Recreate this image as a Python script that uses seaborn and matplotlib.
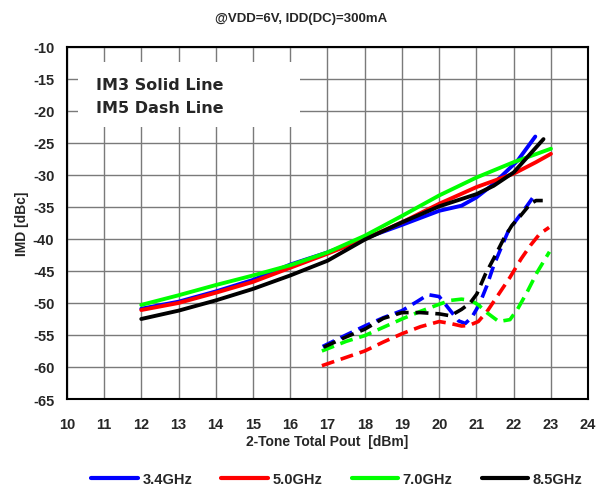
import matplotlib
matplotlib.use("Agg")
import matplotlib.pyplot as plt
from matplotlib.patches import Rectangle
from matplotlib.lines import Line2D
import seaborn as sns
import pandas as pd

# ---- IM3 (solid) ----
x_im3_34 = [12, 13, 14, 15, 16, 17, 18, 19, 20, 20.6, 21, 21.4, 22.1, 22.58]
y_im3_34 = [-50.9, -49.8, -48.2, -46.4, -44.0, -42.1, -39.9, -37.8, -35.6, -34.8, -33.5, -31.7, -27.8, -24.0]

x_im3_50 = [12, 13, 14, 15, 16, 17, 18, 19, 20, 21, 22, 22.6, 23.0]
y_im3_50 = [-51.1, -50.0, -48.4, -46.7, -44.5, -42.3, -40.0, -37.4, -34.5, -31.9, -29.8, -28.0, -26.7]

x_im3_70 = [12, 13, 14, 15, 16, 17, 18, 19, 20, 21, 22, 23.0]
y_im3_70 = [-50.3, -48.8, -47.2, -45.7, -44.1, -42.1, -39.5, -36.4, -33.2, -30.4, -28.0, -25.9]

x_im3_85 = [12, 13, 14, 15, 16, 17, 18, 19, 20, 21, 21.46, 22, 22.8]
y_im3_85 = [-52.5, -51.2, -49.6, -47.8, -45.7, -43.4, -40.1, -37.4, -34.9, -33.0, -31.7, -29.6, -24.4]

# ---- IM5 (dashed) ----
x_im5_34 = [16.87, 17.5, 18, 18.5, 19, 19.4, 19.7, 20.0, 20.3, 20.52, 20.7, 20.88, 21.01,
            21.1, 21.28, 21.46, 21.69, 21.86, 22.09, 22.36, 22.58]
y_im5_34 = [-56.8, -55.0, -53.6, -52.3, -51.2, -49.8, -48.7, -49.0, -51.2, -52.8, -53.2, -52.2, -50.9,
            -49.9, -47.3, -44.2, -41.0, -38.7, -36.9, -34.8, -33.0]

x_im5_50 = [16.85, 17.5, 18, 18.5, 19, 19.5, 20, 20.3, 20.6, 20.8, 21.05, 21.3, 21.6, 21.9,
            22.2, 22.45, 22.7, 22.95]
y_im5_50 = [-59.8, -58.5, -57.5, -56.1, -54.8, -53.7, -52.9, -53.2, -53.6, -53.5, -52.9, -51.2, -48.6, -46.0,
            -43.1, -41.0, -39.2, -38.2]

x_im5_70 = [16.85, 17.5, 18, 18.5, 19, 19.5, 20, 20.3, 20.6, 20.85, 21.05, 21.3, 21.6, 21.9,
            22.1, 22.36, 22.63, 22.96]
y_im5_70 = [-57.5, -56.0, -55.1, -53.8, -52.5, -51.3, -50.2, -49.6, -49.4, -49.6, -50.3, -51.6, -52.9, -52.6,
            -51.0, -48.3, -45.2, -42.0]

x_im5_85 = [16.9, 17.5, 18, 18.5, 19, 19.5, 20, 20.3, 20.6, 20.83, 21.01, 21.24, 21.46, 21.73,
            21.95, 22.18, 22.45, 22.6, 22.78]
y_im5_85 = [-56.9, -55.3, -54.1, -52.4, -51.5, -51.5, -51.7, -52.0, -51.0, -50.0, -48.6, -45.5, -43.1, -40.0,
            -37.9, -36.4, -34.5, -34.0, -34.0]

freq_labels = ["3.4GHz", "5.0GHz", "7.0GHz", "8.5GHz"]
colors = ["#0000FF", "#FF0000", "#00FF00", "#000000"]

x_ticks = list(range(10, 25))
y_ticks = list(range(-65, -9, 5))

title_text = "@VDD=6V, IDD(DC)=300mA"
x_label = "2-Tone Total Pout  [dBm]"
y_label = "IMD [dBc]"
note_lines = ["IM3 Solid Line", "IM5 Dash Line"]

sns.set_style("white")
plt.rcParams["font.family"] = ["Liberation Sans", "DejaVu Sans"]
plt.rcParams["font.weight"] = "bold"

fig = plt.figure(figsize=(6.07, 4.89), dpi=100)
ax = fig.add_axes([0.110, 0.182, 0.859, 0.720])

im3 = [(x_im3_34, y_im3_34), (x_im3_50, y_im3_50), (x_im3_70, y_im3_70), (x_im3_85, y_im3_85)]
im5 = [(x_im5_34, y_im5_34), (x_im5_50, y_im5_50), (x_im5_70, y_im5_70), (x_im5_85, y_im5_85)]

for (xs, ys), c in zip(im3, colors):
    df = pd.DataFrame({"x": xs, "y": ys})
    sns.lineplot(data=df, x="x", y="y", ax=ax, color=c, linewidth=2.8,
                 sort=False, estimator=None, zorder=3)

for (xs, ys), c in zip(im5, colors):
    df = pd.DataFrame({"x": xs, "y": ys})
    sns.lineplot(data=df, x="x", y="y", ax=ax, color=c, linewidth=2.6,
                 sort=False, estimator=None, zorder=3, dashes=False)
    ax.lines[-1].set_dashes((3.6, 1.9))

ax.set_xlim(10, 24)
ax.set_ylim(-65, -10)
ax.set_xticks(x_ticks)
ax.set_yticks(y_ticks)
ax.set_xticklabels([str(v) for v in x_ticks], fontsize=10.5, fontweight="bold")
ax.set_yticklabels([str(v) for v in y_ticks], fontsize=10.5, fontweight="bold")
ax.tick_params(axis="both", length=0)
ax.tick_params(axis="x", pad=13)
ax.tick_params(axis="y", pad=9)

ax.grid(True, color="#7a7a7a", linewidth=1.0, linestyle="-")
ax.set_axisbelow(True)
for s in ax.spines.values():
    s.set_color("#000000")
    s.set_linewidth(1.5)
    s.set_visible(True)

# white panel behind the note text
ax.add_patch(Rectangle((10.3, -22.5), 5.96, 10.1, facecolor="white", edgecolor="none", zorder=1.5))
ax.text(10.78, -15.8, note_lines[0], fontsize=11.5, fontweight="bold",
        family="DejaVu Sans", va="center", ha="left", zorder=4)
ax.text(10.78, -19.4, note_lines[1], fontsize=11.5, fontweight="bold",
        family="DejaVu Sans", va="center", ha="left", zorder=4)

ax.set_xlabel(x_label, fontsize=10, fontweight="bold", labelpad=2)
ax.set_ylabel(y_label, fontsize=10, fontweight="bold", labelpad=3)
fig.text(0.496, 0.962, title_text, fontsize=9.5, fontweight="bold", ha="center", va="center")

handles = [Line2D([0], [0], color=c, linewidth=3) for c in colors]
fig.legend(handles, freq_labels, loc="center", bbox_to_anchor=(0.555, 0.018), ncol=4,
           frameon=False, handlelength=3.2, handletextpad=0.3, columnspacing=2.0,
           borderpad=0.2, prop={"weight": "bold", "size": 10.5})

fig.savefig("out.png", dpi=100)
